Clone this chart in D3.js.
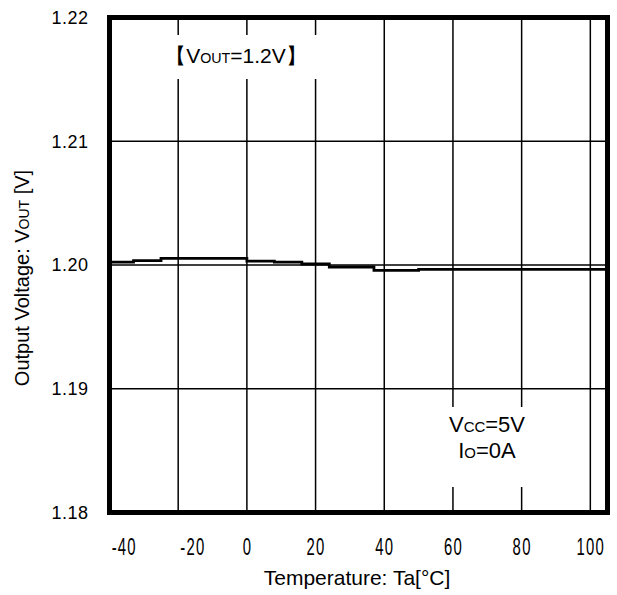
<!DOCTYPE html>
<html>
<head>
<meta charset="utf-8">
<script src="https://cdn.jsdelivr.net/npm/d3@7"></script>
<style>
  body { margin: 0; background: #fff; }
  text { font-family: "Liberation Sans", Arial, sans-serif; fill: #000; }
</style>
</head>
<body>
<div class="viz"></div>
<script>
// temperature [C] where each step of the trace starts, and Vout [V]
var temps = [-40, -33, -25, 0, 8, 16, 24, 37, 50, 105];
var vout = [1.20024, 1.20036, 1.20053, 1.20032, 1.20024, 1.20008, 1.19984, 1.19956, 1.19964, 1.19964];

var xTicks = [-40, -20, 0, 20, 40, 60, 80, 100];
var yTicks = [1.18, 1.19, 1.20, 1.21, 1.22];

var width = 617,
    height = 595,
    margin = {top: 17.5, right: 9.5, bottom: 82.5, left: 109.5};

var svg = d3.select('.viz').append('svg')
  .attr('width', width)
  .attr('height', height);

var x = d3.scaleLinear()
  .domain([-40, 105])
  .range([margin.left, width - margin.right]);

var y = d3.scaleLinear()
  .domain([1.18, 1.22])
  .range([height - margin.bottom, margin.top]);

/* grid */
var grid = svg.append('g').attr('class', 'grid')
  .attr('stroke', '#000')
  .attr('stroke-width', 1.5);

grid.selectAll('.vline')
  .data(xTicks.filter(function(d){ return d > -40; }))
  .enter().append('line')
  .attr('x1', function(d){ return x(d); })
  .attr('x2', function(d){ return x(d); })
  .attr('y1', y.range()[1])
  .attr('y2', y.range()[0]);

grid.selectAll('.hline')
  .data(yTicks.slice(1, -1))
  .enter().append('line')
  .attr('x1', x.range()[0])
  .attr('x2', x.range()[1])
  .attr('y1', function(d){ return y(d); })
  .attr('y2', function(d){ return y(d); });

/* labels inside the plot, with a white box that breaks the grid */
function note(cx, baseline, lines, size, pad) {
  var lead = 26;
  var g = svg.append('g');
  var bg = g.append('rect').attr('fill', '#fff');
  var t = g.append('text')
    .attr('text-anchor', 'middle')
    .style('font-size', size + 'px');
  lines.forEach(function(parts, i){
    var first = true;
    parts.forEach(function(p){
      var ts = t.append('tspan').text(p[0]);
      if (first) { ts.attr('x', cx).attr('y', baseline + i * lead); first = false; }
      if (p[1]) ts.style('font-size', (size * 0.68) + 'px');
    });
  });
  var b = t.node().getBBox();
  bg.attr('x', b.x - pad[0])
    .attr('y', baseline - pad[1])
    .attr('width', b.width + 2 * pad[0])
    .attr('height', (lines.length - 1) * lead + pad[1] + pad[2]);
}

note(236, 63, [[['【V'], ['OUT', 1], ['=1.2V】']]], 21, [12, 28, 16]);
note(487, 432, [[['V'], ['CC', 1], ['=5V']], [['I'], ['O', 1], ['=0A']]], 22, [10, 25, 29]);

/* data */
var line = d3.line()
  .curve(d3.curveStepAfter)
  .x(function(d){ return x(d[0]); })
  .y(function(d){ return y(d[1]); });

svg.append('path')
  .datum(d3.zip(temps, vout))
  .attr('fill', 'none')
  .attr('stroke', '#000')
  .attr('stroke-width', 2.8)
  .attr('d', line);

/* frame */
svg.append('rect')
  .attr('x', x.range()[0])
  .attr('y', y.range()[1])
  .attr('width', x.range()[1] - x.range()[0])
  .attr('height', y.range()[0] - y.range()[1])
  .attr('fill', 'none')
  .attr('stroke', '#000')
  .attr('stroke-width', 5);

/* axes */
var xAxis = d3.axisBottom(x)
  .tickValues(xTicks)
  .tickSize(0)
  .tickPadding(0)
  .tickFormat(function(d){ return d < 0 ? '-' + Math.abs(d) : d; });

svg.append('g')
  .attr('transform', 'translate(0,' + (y.range()[0] + 25) + ')')
  .call(xAxis)
  .call(function(g){ g.select('.domain').remove(); })
  .selectAll('text')
  .attr('transform', 'scale(0.62,1)')
  .attr('dx', function(d){ return d < 0 ? 23 : 0; })
  .attr('dy', '0.71em')
  .style('font-size', '24px')
  .style('letter-spacing', '2px');

var yAxis = d3.axisLeft(y)
  .tickValues(yTicks)
  .tickSize(0)
  .tickPadding(21)
  .tickFormat(d3.format('.2f'));

svg.append('g')
  .attr('transform', 'translate(' + x.range()[0] + ',0)')
  .call(yAxis)
  .call(function(g){ g.select('.domain').remove(); })
  .selectAll('text')
  .style('font-size', '18px')
  .style('letter-spacing', '0.5px');

/* titles */
svg.append('text')
  .attr('x', 357)
  .attr('y', 585)
  .attr('text-anchor', 'middle')
  .style('font-size', '21px')
  .text('Temperature: Ta[°C]');

var yt = svg.append('text')
  .attr('transform', 'translate(29,278) rotate(-90)')
  .attr('text-anchor', 'middle')
  .style('font-size', '20px');
yt.append('tspan').text('Output Voltage: V');
yt.append('tspan').style('font-size', '14px').text('OUT');
yt.append('tspan').text(' [V]');
</script>
</body>
</html>
